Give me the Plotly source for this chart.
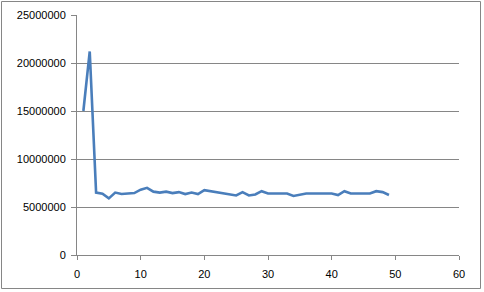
import plotly.graph_objects as go

x_vals = list(range(1, 50))
y_vals = [15000000, 21200000, 6500000, 6380000, 5900000, 6500000, 6350000, 6400000, 6450000, 6800000,
          7000000, 6600000, 6500000, 6600000, 6450000, 6550000, 6350000, 6500000, 6350000, 6750000,
          6650000, 6550000, 6450000, 6350000, 6200000, 6550000, 6200000, 6300000, 6650000, 6400000,
          6400000, 6400000, 6400000, 6150000, 6300000, 6400000, 6400000, 6400000, 6400000, 6400000,
          6250000, 6650000, 6400000, 6400000, 6400000, 6400000, 6650000, 6550000, 6250000]
y_ticks = [0, 5000000, 10000000, 15000000, 20000000, 25000000]
x_ticks = [0, 10, 20, 30, 40, 50, 60]

W, H = 484, 292
L, R, T, B = 77, 25, 15, 37

fig = go.Figure()
fig.add_trace(go.Scatter(x=x_vals, y=y_vals, mode="lines",
                         line=dict(color="#4A7EBB", width=2.6), showlegend=False))

font = dict(family="Liberation Sans, Arial", size=11, color="#000000")
fig.update_layout(
    width=W, height=H,
    margin=dict(l=L, r=R, t=T, b=B),
    paper_bgcolor="white", plot_bgcolor="white",
    font=font,
    xaxis=dict(range=[0, 60], tickvals=x_ticks, showgrid=False, zeroline=False,
               showline=True, linecolor="#868686", linewidth=1, automargin=False,
               ticks="outside", ticklen=4, tickcolor="#868686", ticklabelstandoff=5),
    yaxis=dict(range=[0, 25000000], tickvals=y_ticks, tickformat="d",
               showgrid=True, gridcolor="#868686", gridwidth=1, zeroline=False,
               showline=True, linecolor="#868686", linewidth=1, automargin=False,
               ticks="outside", ticklen=5, tickcolor="#868686", ticklabelstandoff=3),
)
pw = W - L - R
ph = H - T - B
fig.add_shape(type="rect", xref="paper", yref="paper",
              x0=(1.5 - L) / pw, x1=(480.5 - L) / pw,
              y0=-(288.5 - T - ph) / ph, y1=1 + (T - 1.5) / ph,
              line=dict(color="#868686", width=1), fillcolor="rgba(0,0,0,0)", layer="below")
fig.write_html("out.html")
